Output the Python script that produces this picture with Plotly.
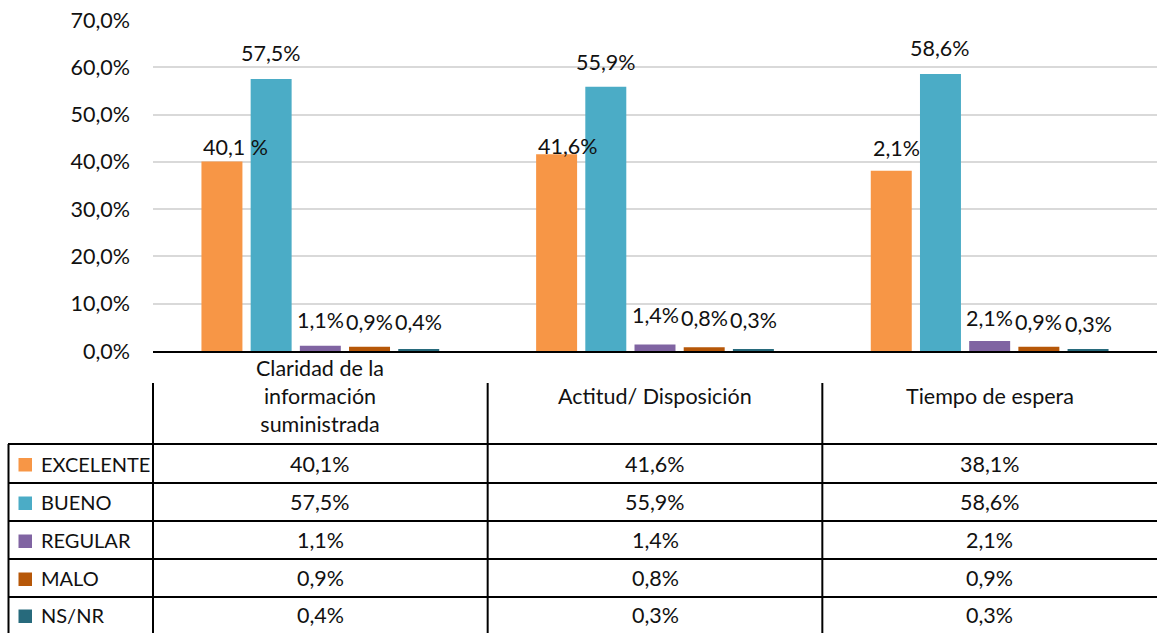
import plotly.graph_objects as go

# ---------------- data ----------------
categories = ["Claridad de la información suministrada", "Actitud/ Disposición", "Tiempo de espera"]
category_header = ["Claridad de la<br>información<br>suministrada", "Actitud/ Disposición", "Tiempo de espera"]
series_names = ["EXCELENTE", "BUENO", "REGULAR", "MALO", "NS/NR"]
excelente = [0.401, 0.416, 0.381]
bueno = [0.575, 0.559, 0.586]
regular = [0.011, 0.014, 0.021]
malo = [0.009, 0.008, 0.009]
nsnr = [0.004, 0.003, 0.003]
# data labels as they appear on the bars of the original chart
excelente_bar_labels = ["40,1 %", "41,6%", "2,1%"]
y_ticks = [0.0, 0.1, 0.2, 0.3, 0.4, 0.5, 0.6, 0.7]

series_values = [excelente, bueno, regular, malo, nsnr]
colors = ["#F79646", "#4BACC6", "#8064A2", "#B65708", "#276A7C"]

# ---------------- style / layout ----------------
W, H = 1157, 633
FONT = "Lato, 'Open Sans', sans-serif"
FS = 21.5
FS_ROW = 20
TXT = "#111111"
BARGAP = 0.265
BARGROUPGAP = 0.167
PLOT_LEFT, PLOT_TOP, PLOT_BOTTOM = 153, 20, 351
label_shift = [[14, 8, 23], [26, 25, 26], [26, 29, 23], [25, 29, 25], [27, 30, 26]]


def px(x):
    return x / W


def py(y):
    return (H - y) / H


def fmt(v):
    return f"{v * 100:.1f}%".replace(".", ",")


fig = go.Figure()
for name, vals, col in zip(series_names, series_values, colors):
    fig.add_trace(go.Bar(name=name, x=categories, y=vals, marker=dict(color=col, line=dict(width=0)),
                         showlegend=False, hoverinfo="skip"))

annotations = []
shapes = []

# bar data labels
n = len(series_names)
group_w = 1 - BARGAP
slot = group_w / n
bar_w = slot * (1 - BARGROUPGAP)
for si, vals in enumerate(series_values):
    for ci, v in enumerate(vals):
        center = ci - group_w / 2 + slot * (si + 0.5)
        if si == 0:
            text = excelente_bar_labels[ci]
            x, xanchor = center - bar_w / 2, "left"
        else:
            text = fmt(v)
            x, xanchor = center, "center"
        annotations.append(dict(x=x, y=v, xref="x", yref="y", text=text, showarrow=False,
                                xanchor=xanchor, yanchor="middle", yshift=label_shift[si][ci],
                                font=dict(family=FONT, size=FS, color=TXT)))

# table header (category names)
for ci, head in enumerate(category_header):
    annotations.append(dict(x=ci, y=py(396), xref="x", yref="paper", text=head, showarrow=False,
                            xanchor="center", yanchor="middle",
                            font=dict(family=FONT, size=FS, color=TXT)))

# table rows
row_lines = [444, 483, 521, 559, 597]
row_centers = [463.5, 502, 540, 578, 615]
for si, (name, vals, col) in enumerate(zip(series_names, series_values, colors)):
    yc = row_centers[si]
    annotations.append(dict(x=px(39), y=py(yc), xref="paper", yref="paper", text=name, showarrow=False,
                            xanchor="left", yanchor="middle",
                            font=dict(family=FONT, size=FS_ROW, color=TXT)))
    shapes.append(dict(type="rect", xref="paper", yref="paper", x0=px(18.5), x1=px(32),
                       y0=py(yc + 8), y1=py(yc - 5.5), fillcolor=col, line=dict(width=0)))
    for ci, v in enumerate(vals):
        annotations.append(dict(x=ci, y=py(yc), xref="x", yref="paper", text=fmt(v), showarrow=False,
                                xanchor="center", yanchor="middle",
                                font=dict(family=FONT, size=FS, color=TXT)))

LINE = dict(color="#000000", width=2)
for y in row_lines:
    shapes.append(dict(type="line", xref="paper", yref="paper", x0=px(8), x1=1, y0=py(y), y1=py(y), line=LINE))
shapes.append(dict(type="line", xref="paper", yref="paper", x0=px(PLOT_LEFT), x1=px(PLOT_LEFT),
                   y0=py(383), y1=0, line=LINE))
for xb in [0.5, 1.5]:
    shapes.append(dict(type="line", xref="x", yref="paper", x0=xb, x1=xb, y0=py(383), y1=0, line=LINE))
shapes.append(dict(type="line", xref="paper", yref="paper", x0=px(8.5), x1=px(8.5), y0=py(444), y1=0, line=LINE))

fig.update_layout(
    width=W, height=H,
    template="none",
    paper_bgcolor="white", plot_bgcolor="white",
    margin=dict(l=0, r=0, t=0, b=0),
    barmode="group", bargap=BARGAP, bargroupgap=BARGROUPGAP,
    separators=",.",
    font=dict(family=FONT, size=FS, color=TXT),
    xaxis=dict(domain=[px(PLOT_LEFT), 1], range=[-0.5, 2.5], showticklabels=False, showgrid=False,
               showline=True, linecolor="#000000", linewidth=2, ticks="", zeroline=False,
               automargin=False, fixedrange=True),
    yaxis=dict(domain=[py(PLOT_BOTTOM), py(PLOT_TOP)], range=[0, 0.7], tickvals=y_ticks,
               tickformat=".1%", showgrid=True, gridcolor="#D9D9D9", gridwidth=2,
               showline=False, zeroline=False, ticks="", ticklabelstandoff=22,
               tickfont=dict(family=FONT, size=FS, color=TXT), automargin=False, fixedrange=True),
    annotations=annotations,
    shapes=shapes,
    showlegend=False,
)

fig.write_html("out.html", config={"displayModeBar": False},
               post_script="document.body.style.margin='0';document.body.style.overflow='hidden';")
